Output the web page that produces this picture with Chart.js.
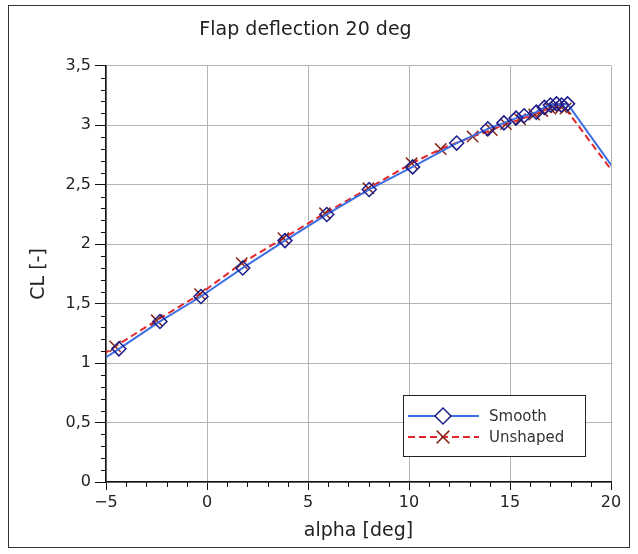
<!DOCTYPE html>
<html>
<head>
<meta charset="utf-8">
<script src="https://cdn.jsdelivr.net/npm/chart.js@4"></script>
<style>
  html, body { margin: 0; padding: 0; background: #fff; }
  #wrap { position: relative; width: 638px; height: 554px; }
</style>
</head>
<body>
<div id="wrap"><canvas id="chart" width="638" height="554"></canvas></div>
<script>
// values
const smoothAlpha = [-6.4, -4.36, -2.33, -0.30, 1.77, 3.86, 5.93, 8.03, 10.18, 12.36, 13.9, 14.7, 15.3, 15.7, 16.3, 16.7, 17.0, 17.3, 17.55, 17.85, 21.0];
const smoothCL    = [0.89, 1.12, 1.35, 1.56, 1.80, 2.03, 2.25, 2.46, 2.65, 2.85, 2.97, 3.02, 3.06, 3.08, 3.11, 3.15, 3.17, 3.18, 3.17, 3.18, 2.43];
const unshapedAlpha = [-6.5, -4.55, -2.49, -0.35, 1.72, 3.78, 5.84, 7.99, 10.13, 11.57, 13.15, 14.1, 14.8, 15.5, 16.2, 16.6, 17.0, 17.3, 17.55, 17.75, 21.0];
const unshapedCL    = [0.92, 1.14, 1.36, 1.58, 1.84, 2.05, 2.26, 2.47, 2.68, 2.80, 2.905, 2.96, 3.01, 3.05, 3.09, 3.12, 3.14, 3.15, 3.15, 3.14, 2.40];

const xTicks = [-5, 0, 5, 10, 15, 20];
const yTicks = [0, 0.5, 1, 1.5, 2, 2.5, 3, 3.5];
const seriesNames = ["Smooth", "Unshaped"];

const FONT = "'DejaVu Sans', sans-serif";
const blueLine = "#3f6fe4";
const navyMark = "#1c1c8a";
const redLine = "#e3262a";
const redMark = "#8a2a1c";

function toPoints(xs, ys) {
  return xs.map((x, i) => ({ x: x, y: ys[i] }));
}

// frame, minor ticks and legend
const extras = {
  id: "extras",
  beforeDraw(chart) {
    const ctx = chart.ctx;
    ctx.save();
    ctx.fillStyle = "#fff";
    ctx.fillRect(0, 0, chart.width, chart.height);
    ctx.strokeStyle = "#333";
    ctx.lineWidth = 1;
    ctx.strokeRect(8.5, 5.5, 621, 542);
    ctx.restore();
  },
  afterDraw(chart) {
    const ctx = chart.ctx;
    const xs = chart.scales.x, ys = chart.scales.y;
    const area = chart.chartArea;
    ctx.save();
    ctx.strokeStyle = "#111";
    ctx.lineWidth = 1;
    ctx.beginPath();
    for (let v = 1; v < 35; v++) {
      if (v % 5 === 0) continue;
      const py = Math.round(ys.getPixelForValue(v / 10)) + 0.5;
      ctx.moveTo(area.left - 5, py);
      ctx.lineTo(area.left, py);
    }
    for (let v = -4; v < 20; v++) {
      if (v % 5 === 0) continue;
      const px = Math.round(xs.getPixelForValue(v)) + 0.5;
      ctx.moveTo(px, area.bottom);
      ctx.lineTo(px, area.bottom + 5);
    }
    ctx.stroke();

    // legend
    const bx = 403, by = 395, bw = 182, bh = 61;
    ctx.fillStyle = "#fff";
    ctx.fillRect(bx, by, bw, bh);
    ctx.strokeStyle = "#222";
    ctx.strokeRect(bx + 0.5, by + 0.5, bw, bh);
    chart.data.datasets.forEach((ds, i) => {
      const y = by + 21 + i * 21;
      ctx.save();
      ctx.strokeStyle = ds.borderColor;
      ctx.lineWidth = ds.borderWidth;
      ctx.setLineDash(ds.borderDash || []);
      ctx.beginPath();
      ctx.moveTo(bx + 5, y);
      ctx.lineTo(bx + 76, y);
      ctx.stroke();
      ctx.setLineDash([]);
      ctx.strokeStyle = ds.pointBorderColor;
      ctx.fillStyle = "#fff";
      ctx.lineWidth = ds.pointBorderWidth;
      Chart.helpers.drawPoint(ctx, {
        pointStyle: ds.pointStyle,
        radius: ds.pointRadius + 1,
        rotation: 0,
        borderWidth: ds.pointBorderWidth
      }, bx + 40, y);
      ctx.restore();
      ctx.fillStyle = "#333";
      ctx.font = "15px " + FONT;
      ctx.textBaseline = "middle";
      ctx.fillText(ds.label, bx + 86, y + 1);
    });
    ctx.restore();
  }
};

const fmt = v => String(v).replace("-", "\u2212").replace(".", ",");

new Chart(document.getElementById("chart"), {
  type: "line",
  data: {
    datasets: [
      {
        label: seriesNames[0],
        data: toPoints(smoothAlpha, smoothCL),
        borderColor: blueLine,
        borderWidth: 2,
        pointStyle: "rectRot",
        pointRadius: 7,
        pointBackgroundColor: "rgba(0,0,0,0)",
        pointBorderColor: navyMark,
        pointBorderWidth: 1.5,
        tension: 0
      },
      {
        label: seriesNames[1],
        data: toPoints(unshapedAlpha, unshapedCL),
        borderColor: redLine,
        borderWidth: 2,
        borderDash: [7, 4],
        pointStyle: "crossRot",
        pointRadius: 8,
        pointBackgroundColor: "rgba(0,0,0,0)",
        pointBorderColor: redMark,
        pointBorderWidth: 1.5,
        tension: 0
      }
    ]
  },
  options: {
    responsive: false,
    animation: false,
    layout: { padding: { left: 0, right: 27, top: 0, bottom: 0 } },
    plugins: {
      legend: { display: false },
      tooltip: { enabled: false },
      title: {
        display: true,
        text: "Flap deflection 20 deg",
        color: "#222",
        font: { family: FONT, size: 19, weight: "normal" },
        padding: { top: 19, bottom: 24 }
      }
    },
    scales: {
      x: {
        type: "linear",
        min: -5,
        max: 20,
        afterBuildTicks: s => { s.ticks = xTicks.map(v => ({ value: v })); },
        afterFit: s => { s.height = 72; },
        ticks: {
          color: "#222",
          font: { family: FONT, size: 16 },
          padding: 3,
          maxRotation: 0,
          callback: v => fmt(v)
        },
        grid: { color: "#b4b4b4", lineWidth: 1, tickColor: "#111", tickLength: 8 },
        border: { color: "#111", width: 1.5 },
        title: {
          display: true,
          text: "alpha [deg]",
          color: "#222",
          font: { family: FONT, size: 19 },
          padding: { top: 4, bottom: 12 }
        }
      },
      y: {
        type: "linear",
        min: 0,
        max: 3.5,
        afterBuildTicks: s => { s.ticks = yTicks.map(v => ({ value: v })); },
        afterFit: s => { s.width = 106; },
        ticks: {
          color: "#222",
          font: { family: FONT, size: 16 },
          padding: 4,
          callback: v => fmt(v)
        },
        grid: { color: "#b4b4b4", lineWidth: 1, tickColor: "#111", tickLength: 11 },
        border: { color: "#111", width: 1.5 },
        title: {
          display: true,
          text: "CL [-]",
          color: "#222",
          font: { family: FONT, size: 19 },
          padding: { top: 28, bottom: 0 }
        }
      }
    }
  },
  plugins: [extras]
});
</script>
</body>
</html>
